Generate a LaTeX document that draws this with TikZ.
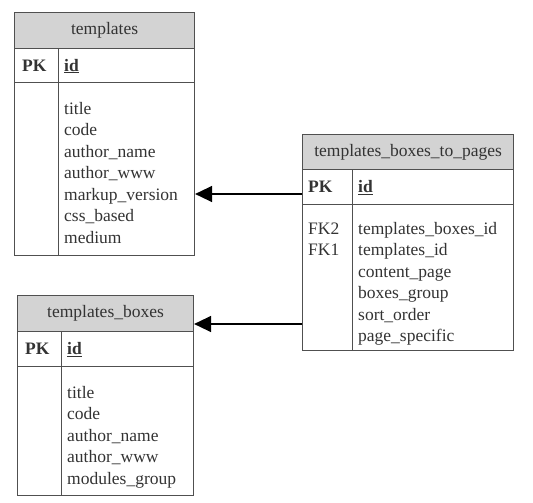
\documentclass[tikz,border=0pt]{standalone}
\usepackage{fontspec}
\setmainfont{Liberation Serif}
\usetikzlibrary{arrows.meta}
\definecolor{hdrgray}{HTML}{D3D3D3}
\definecolor{linegray}{HTML}{505050}
\definecolor{txtgray}{HTML}{333333}

\tikzset{
  box/.style={draw=linegray, line width=1.1pt, inner sep=0pt, anchor=north west},
  head/.style={box, fill=hdrgray},
  fld/.style={anchor=base west, inner sep=0pt},
  fk/.style={draw=black, line width=1.4pt, -{Triangle[length=17pt,width=16pt]}}
}

\begin{document}
\begin{tikzpicture}[x=1pt, y=-1pt,
    every node/.style={font=\fontsize{17.5}{21.5}\selectfont, text=txtgray}]
  \useasboundingbox (0,0) rectangle (533,503);

  % templates
  \node[head, minimum width=180pt, minimum height=36pt] (tplHead) at (14,12) {templates};
  \node[box, minimum width=44pt, minimum height=34pt] (tplPKk) at (14,48) {};
  \node[box, minimum width=136pt, minimum height=34pt] (tplPKf) at (58,48) {};
  \node[box, minimum width=44pt, minimum height=173pt] (tplBk) at (14,82) {};
  \node[box, minimum width=136pt, minimum height=173pt] (tplBf) at (58,82) {};
  \node[fld] (tplPK) at (22,71) {\textbf{PK}};
  \node[fld] (tplId) at (64,71) {\textbf{\underline{id}}};
  \foreach \f [count=\i] in {title,code,author\_name,author\_www,markup\_version,css\_based,medium}
    \node[fld] (tpl-\i) at (64,{114+21.5*(\i-1)}) {\f};

  % templates_boxes
  \node[head, minimum width=176pt, minimum height=36pt] (boxHead) at (17,295) {templates\_boxes};
  \node[box, minimum width=44pt, minimum height=35pt] (boxPKk) at (17,331) {};
  \node[box, minimum width=132pt, minimum height=35pt] (boxPKf) at (61,331) {};
  \node[box, minimum width=44pt, minimum height=129pt] (boxBk) at (17,366) {};
  \node[box, minimum width=132pt, minimum height=129pt] (boxBf) at (61,366) {};
  \node[fld] (boxPK) at (25,354.5) {\textbf{PK}};
  \node[fld] (boxId) at (67,354.5) {\textbf{\underline{id}}};
  \foreach \f [count=\i] in {title,code,author\_name,author\_www,modules\_group}
    \node[fld] (box-\i) at (67,{398+21.5*(\i-1)}) {\f};

  % templates_boxes_to_pages
  \node[head, minimum width=211pt, minimum height=35pt] (tbpHead) at (302,134) {templates\_boxes\_to\_pages};
  \node[box, minimum width=50pt, minimum height=35pt] (tbpPKk) at (302,169) {};
  \node[box, minimum width=161pt, minimum height=35pt] (tbpPKf) at (352,169) {};
  \node[box, minimum width=50pt, minimum height=146pt] (tbpBk) at (302,204) {};
  \node[box, minimum width=161pt, minimum height=146pt] (tbpBf) at (352,204) {};
  \node[fld] (tbpPK) at (308,192.5) {\textbf{PK}};
  \node[fld] (tbpId) at (358,192.5) {\textbf{\underline{id}}};
  \node[fld] (tbpFK2) at (308,234) {FK2};
  \node[fld] (tbpFK1) at (308,255.5) {FK1};
  \foreach \f [count=\i] in {templates\_boxes\_id,templates\_id,content\_page,boxes\_group,sort\_order,page\_specific}
    \node[fld] (tbp-\i) at (358,{234+21.5*(\i-1)}) {\f};

  % relations
  \coordinate (relTpl) at (302,194);
  \coordinate (relBox) at (302,324);
  \draw[fk] (relTpl) -- (relTpl -| tplBf.east);
  \draw[fk] (relBox) -- (relBox -| boxHead.east);
\end{tikzpicture}
\end{document}
